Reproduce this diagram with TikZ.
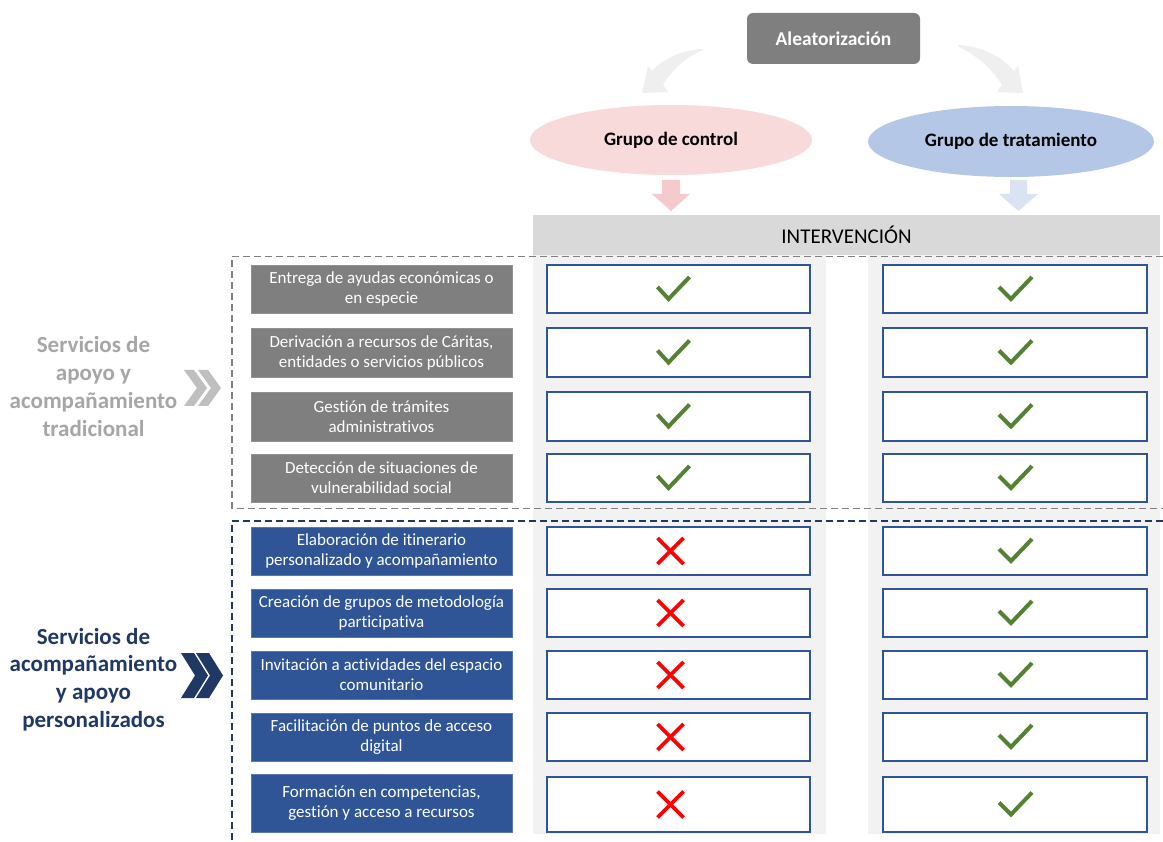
\documentclass[tikz,border=0pt]{standalone}
\usepackage{fontspec}
\setmainfont{Carlito}[Ligatures={NoCommon}]
\usetikzlibrary{shapes.geometric}
\definecolor{dgray}{HTML}{7F7F7F}
\definecolor{navy}{HTML}{2F5597}
\definecolor{dnavy}{HTML}{203864}
\definecolor{lgray}{HTML}{A6A6A6}
\definecolor{bggray}{HTML}{F2F2F2}
\definecolor{bargray}{HTML}{D9D9D9}
\definecolor{pinkfill}{HTML}{F8DADB}
\definecolor{pinkarrow}{HTML}{F5CACC}
\definecolor{bluefill}{HTML}{B4C7E7}
\definecolor{bluearrow}{HTML}{DAE3F3}
\definecolor{curvegray}{HTML}{EFEFEF}
\definecolor{chk}{HTML}{548235}
\definecolor{crs}{HTML}{FF0000}
\definecolor{chevgray}{HTML}{BFBFBF}
\definecolor{dashgray}{HTML}{808080}
\begin{document}
\begin{tikzpicture}[x=1pt,y=-1pt,
  svcbox/.style={minimum width=261pt, minimum height=48pt, inner sep=0pt, align=center,
    text=white, font=\fontsize{17}{20}\selectfont},
  grayserv/.style={svcbox, fill=dgray, draw=dgray!85!white, line width=0.8pt},
  blueserv/.style={svcbox, fill=navy, draw=navy!80!white, line width=0.8pt},
  cellbox/.style={minimum width=263pt, minimum height=48pt, inner sep=0pt, draw=navy, line width=1.6pt, fill=white},
  checkmark/.style={draw=chk, line width=4pt},
  crossmark/.style={draw=crs, line width=3.8pt},
  sidelabel/.style={align=center, font=\fontsize{23}{27.7}\selectfont\bfseries},
  groupell/.style={ellipse, inner sep=0pt, font=\fontsize{19}{22}\selectfont\bfseries},
  dashline/.style={line width=1.5pt, dash pattern=on 7pt off 4pt}
]
\useasboundingbox (0,0) rectangle (1163,842);
\fill[white] (0,0) rectangle (1163,842);

% top
\node[fill=dgray, rounded corners=6pt, minimum width=173pt, minimum height=51pt, inner sep=0pt,
  text=white, font=\fontsize{19.5}{22}\selectfont\bfseries] (alea) at (833.5,38.5) {Aleatorización};

% curved arrows
\fill[curvegray] (703,49) .. controls (680,50) and (662,60) .. (652,71) -- (648,66) -- (642,93) -- (668,92)
  -- (663,85) .. controls (673,68) and (688,56) .. (703,50) -- cycle;
\fill[curvegray] (958,45) .. controls (982,46) and (1002,57) .. (1014,71) -- (1018,66) -- (1023,93) -- (997,92)
  -- (1002,85) .. controls (992,68) and (976,55) .. (958,46.5) -- cycle;

\node[groupell, fill=pinkfill, minimum width=282pt, minimum height=70pt] (gc) at (671,140) {Grupo de control};
\node[groupell, fill=bluefill, minimum width=286pt, minimum height=71pt] (gt) at (1011,141.5) {Grupo de tratamiento};

% down arrows
\fill[pinkarrow] (662,180) -- (680,180) -- (680,194) -- (690,194) -- (671,211) -- (652,194) -- (662,194) -- cycle;
\fill[bluearrow] (1010,180) -- (1027,180) -- (1027,194) -- (1038,194) -- (1018.5,211) -- (999,194) -- (1010,194) -- cycle;

% intervention bar and column backgrounds
\node[fill=bargray, minimum width=627pt, minimum height=40pt, inner sep=0pt,
  font=\fontsize{21}{24}\selectfont] (interv) at (846.5,235) {INTERVENCIÓN};
\fill[bggray] (533,255) rectangle (826,834);
\fill[bggray] (868,255) rectangle (1160,834);

% dashed groupings
\draw[dashline, draw=dashgray] (1163,256.5) -- (232,256.5) -- (232,508.5) -- (1163,508.5);
\draw[dashline, draw=dnavy] (1163,521) -- (232,521) -- (232,842);

% side labels and chevrons
\node[sidelabel, text=lgray] (lab1) at (93.5,386.5) {Servicios de\\apoyo y\\acompañamiento\\tradicional};
\node[sidelabel, text=dnavy] (lab2) at (93.5,679.5) {Servicios de\\acompañamiento\\y apoyo\\personalizados};
\foreach \o in {0,14}
  \fill[chevgray] (184+\o,370) -- ++(10,0) -- ++(13,18) -- ++(-13,18) -- ++(-10,0) -- ++(13,-18) -- cycle;
\foreach \o in {0,15}
  \fill[dnavy] (181+\o,653) -- ++(13,0) -- ++(14,22.5) -- ++(-14,22.5) -- ++(-13,0) -- ++(14,-22.5) -- cycle;

% service boxes
\node[grayserv] (s1) at (381.5,289) {Entrega de ayudas económicas o\\en especie};
\node[grayserv, minimum height=49pt] (s2) at (381.5,352.5) {Derivación a recursos de Cáritas,\\entidades o servicios públicos};
\node[grayserv, minimum height=49pt] (s3) at (381.5,416.5) {Gestión de trámites\\administrativos};
\node[grayserv] (s4) at (381.5,478) {Detección de situaciones de\\vulnerabilidad social};
\node[blueserv] (s5) at (381.5,551) {Elaboración de itinerario\\personalizado y acompañamiento};
\node[blueserv] (s6) at (381.5,613) {Creación de grupos de metodología\\participativa};
\node[blueserv] (s7) at (381.5,675) {Invitación a actividades del espacio\\comunitario};
\node[blueserv] (s8) at (381.5,737) {Facilitación de puntos de acceso\\digital};
\node[blueserv, minimum height=58pt] (s9) at (381.5,803) {Formación en competencias,\\gestión y acceso a recursos};

% cells
\foreach \i/\y/\h in {1/289/48, 2/352.5/49, 3/416.5/49, 4/478/48, 5/551/48, 6/613/48, 7/675/48, 8/737/48, 9/804.5/55} {
  \node[cellbox, minimum height=\h pt] (c\i) at (678.5,\y) {};
  \node[cellbox, minimum width=264pt, minimum height=\h pt] (t\i) at (1015,\y) {};
  \draw[checkmark] ([shift={(-16,-2)}]t\i.center) -- ++(12,12) -- ++(21,-22);
}
\foreach \i in {1,2,3,4}
  \draw[checkmark] ([shift={(-21,-2)}]c\i.center) -- ++(11,12) -- ++(21,-22);
\foreach \i in {5,6,7,8,9} {
  \draw[crossmark] ([shift={(-21,-13)}]c\i.center) -- ++(26,26);
  \draw[crossmark] ([shift={(-21,13)}]c\i.center) -- ++(26,-26);
}
\end{tikzpicture}
\end{document}
